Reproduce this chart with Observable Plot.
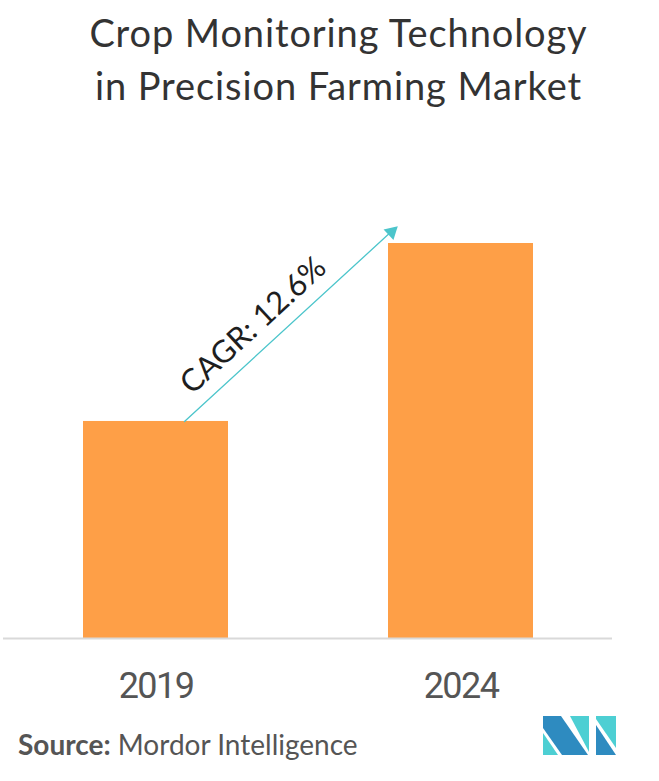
<!DOCTYPE html>
<html><head><meta charset="utf-8">
<script src="https://cdn.jsdelivr.net/npm/d3@7"></script>
<script src="https://cdn.jsdelivr.net/npm/@observablehq/plot@0.6"></script>
<style>
body{margin:0;background:#fff;}
#wrap{position:relative;width:659px;height:781px;overflow:hidden;font-family:Lato,sans-serif;}
#title{position:absolute;left:18px;right:0;top:6px;text-align:center;font-size:38px;line-height:53px;letter-spacing:0.9px;color:#333;}
#chart{position:absolute;left:0;top:140px;}
#source{position:absolute;left:18px;top:730px;font-size:28px;line-height:28px;color:#555;white-space:nowrap;}
#logo{position:absolute;left:543px;top:716px;}
</style></head><body>
<div id="wrap">
<div id="title">Crop Monitoring Technology<br>in Precision Farming Market</div>
<div id="chart"></div>
<div id="source"><b>Source:</b> Mordor Intelligence</div>
<svg id="logo" width="74" height="40" viewBox="0 0 74 40">
  <polygon points="0,17 0,39 15,39" fill="#4dcfd3"/>
  <polygon points="0,0 18,0 45,39 19,39 0,12" fill="#2e8bc0"/>
  <polygon points="27,0 46,0 46,36" fill="#4dcfd3"/>
  <polygon points="53,0 73,0 73,32 53,3" fill="#4dcfd3"/>
  <polygon points="53,9 73,39 53,39" fill="#2e8bc0"/>
</svg>
</div>
<script>
// data
const years = ["2019", "2024"];
const values = [1.0, 1.82];            // relative market size (2019 = 1)
const cagrLabel = "CAGR: 12.6%";
const arrowFrom = "2019";
const arrowTo = "2024";
const arrowTipValue = 2.29;            // y-level the CAGR arrow points toward

const data = years.map((year, i) => ({year, value: values[i]}));
const cagr = [{from: arrowFrom, to: arrowTo, label: cagrLabel}];
const valueOf = y => values[years.indexOf(y)];

// choose a condensed face for the year labels if one is installed
function hasFont(name) {
  const c = document.createElement("canvas").getContext("2d");
  c.font = "40px monospace";
  const a = c.measureText("2019 abcMW").width;
  c.font = `40px "${name}", monospace`;
  return c.measureText("2019 abcMW").width !== a;
}
const narrow = hasFont("Liberation Sans Narrow");
const tickFont = narrow ? '"Liberation Sans Narrow"' : 'Roboto';
const tickSpacing = narrow ? "2px" : "-1.6px";

const chart = Plot.plot({
  width: 659,
  height: 580,
  marginTop: 0,
  marginLeft: 3,
  marginRight: 47,
  marginBottom: 82,
  style: {background: "transparent", overflow: "visible"},
  x: {domain: years, range: [3, 613], paddingInner: 0.5246, paddingOuter: 0.2623, label: null, tickSize: 0, tickPadding: 34},
  y: {domain: [0, 1.82], range: [498, 103], axis: null},
  marks: [
    Plot.barY(data, {x: "year", y: "value", fill: "#fe9f47"}),
    Plot.ruleY([0], {stroke: "#d9d9d9", strokeWidth: 2}),
    Plot.arrow(cagr, {
      x1: d => d.from, y1: d => valueOf(d.from),
      x2: d => d.to, y2: () => arrowTipValue,
      dx: 28.5, insetEnd: 128, headLength: 0,
      stroke: "#4cc5cb", strokeWidth: 1.3
    }),
    Plot.dot(cagr, {
      x: d => d.to, y: d => valueOf(d.to),
      dx: -69.4, dy: -11.6, symbol: "triangle", r: 5.4, rotate: 47.4,
      fill: "#4cc5cb", stroke: null
    }),
    Plot.text(cagr, {
      x: d => d.from, y: d => valueOf(d.from), text: d => d.label,
      rotate: -42.6, textAnchor: "start", lineAnchor: "bottom",
      dx: 36, dy: -26, fontSize: 31, fill: "#1e1e1e", fontFamily: "Lato"
    })
  ]
});
document.getElementById("chart").appendChild(chart);

// style the year tick labels
d3.select(chart).selectAll('g[aria-label^="x-axis"] text')
  .style("font-family", tickFont)
  .style("font-size", "36px")
  .style("letter-spacing", tickSpacing)
  .style("fill", "#555");
</script>
</body></html>
